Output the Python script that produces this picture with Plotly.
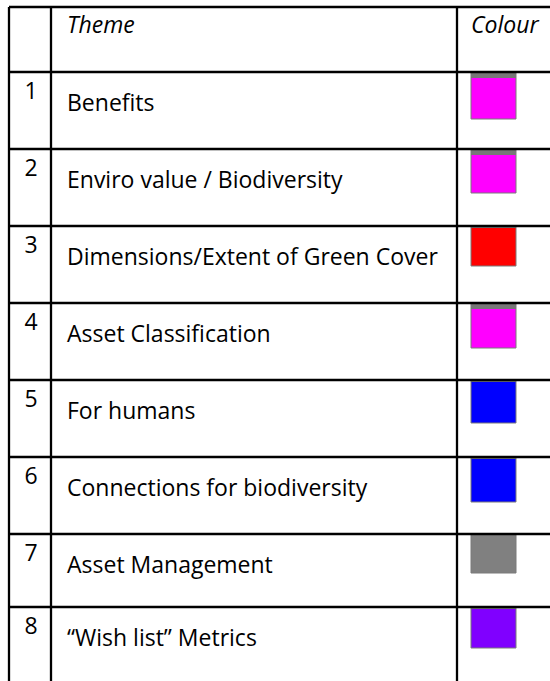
import plotly.graph_objects as go

# table content
numbers = ["1", "2", "3", "4", "5", "6", "7", "8"]
themes = [
    "Benefits",
    "Enviro value / Biodiversity",
    "Dimensions/Extent of Green Cover",
    "Asset Classification",
    "For humans",
    "Connections for biodiversity",
    "Asset Management",
    "\u201cWish list\u201d Metrics",
]
colours = ["#ff00ff", "#ff00ff", "#ff0000", "#ff00ff",
           "#0000ff", "#0000ff", "#808080", "#8000ff"]
header = ["Theme", "Colour"]

# layout of the table (pixels)
W, H = 550, 681
row_lines = [7, 72, 149, 226, 303, 380, 457, 534, 607]
col_lines = [9, 51, 457]
swatch_h = [47, 44, 40, 45, 43, 45, 39, 41]
band_h = [6, 6, 2, 6, 2, 2, 0, 2]
FONT = "Open Sans, Lato, sans-serif"
FS = 23

fig = go.Figure()

# swatches
for i, c in enumerate(colours):
    top = row_lines[i + 1]
    x0, x1 = 471, 516
    y1 = top + swatch_h[i]
    fig.add_trace(go.Scatter(
        x=[x0, x1, x1, x0, x0], y=[top, top, y1, y1, top],
        mode="lines", fill="toself", fillcolor=c,
        line=dict(color="#7a7a7a", width=1), hoverinfo="skip", showlegend=False,
    ))
    if band_h[i]:
        fig.add_trace(go.Scatter(
            x=[x0, x1, x1, x0, x0], y=[top, top, top + band_h[i], top + band_h[i], top],
            mode="lines", fill="toself", fillcolor="#777777",
            line=dict(color="#777777", width=0), hoverinfo="skip", showlegend=False,
        ))

# grid lines
hx, hy = [], []
for y in row_lines:
    hx += [col_lines[0], W + 10, None]
    hy += [y, y, None]
for x in col_lines:
    hx += [x, x, None]
    hy += [row_lines[0], H + 10, None]
fig.add_trace(go.Scatter(x=hx, y=hy, mode="lines", line=dict(color="black", width=2.3),
                         hoverinfo="skip", showlegend=False))

# header
fig.add_trace(go.Scatter(
    x=[67, 471], y=[27, 27], text=header, mode="text", textposition="middle right",
    textfont=dict(family=FONT, size=FS, color="black", style="italic"),
    hoverinfo="skip", showlegend=False,
))

# row numbers
fig.add_trace(go.Scatter(
    x=[31] * len(numbers), y=[r + 21 for r in row_lines[1:]], text=numbers,
    mode="text", textposition="middle center",
    textfont=dict(family=FONT, size=FS, color="black"),
    hoverinfo="skip", showlegend=False,
))

# themes
fig.add_trace(go.Scatter(
    x=[67] * len(themes), y=[r + 33 for r in row_lines[1:]], text=themes,
    mode="text", textposition="middle right",
    textfont=dict(family=FONT, size=FS, color="black"),
    hoverinfo="skip", showlegend=False,
))

fig.update_layout(
    width=W, height=H,
    margin=dict(l=0, r=0, t=0, b=0),
    paper_bgcolor="white", plot_bgcolor="white",
    xaxis=dict(range=[0, W], visible=False, fixedrange=True),
    yaxis=dict(range=[H, 0], visible=False, fixedrange=True),
)

fig.write_html("out.html", config={"displayModeBar": False},
               post_script="document.body.style.margin='0';")
